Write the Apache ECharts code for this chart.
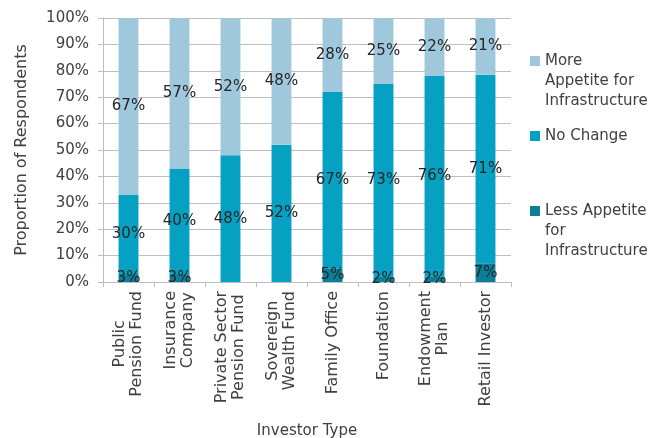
<!DOCTYPE html>
<html>
<head>
<meta charset="utf-8">
<script src="https://cdn.jsdelivr.net/npm/echarts@6/dist/echarts.min.js"></script>
<style>
  html, body { margin: 0; padding: 0; background: #ffffff; }
  #chart { width: 664px; height: 438px; }
</style>
</head>
<body>
<div id="chart"></div>
<script>
// Investor types (line breaks as shown under the axis)
const categories = [
  'Public\nPension Fund',
  'Insurance\nCompany',
  'Private Sector\nPension Fund',
  'Sovereign\nWealth Fund',
  'Family Office',
  'Foundation',
  'Endowment\nPlan',
  'Retail Investor'
];

// Share of respondents (%) per investor type
const lessAppetite = [3, 3, 0, 0, 5, 2, 2, 7.1];
const noChange     = [30, 40, 48, 52, 67, 73, 76, 71.4];
const moreAppetite = [67, 57, 52, 48, 28, 25, 22, 21.4];

const seriesNames = [
  'Less Appetite for Infrastructure',
  'No Change',
  'More Appetite for Infrastructure'
];
const legendLabels = {
  'More Appetite for Infrastructure': 'More\nAppetite for\nInfrastructure',
  'No Change': 'No Change',
  'Less Appetite for Infrastructure': 'Less Appetite\nfor\nInfrastructure'
};

const FONT = 'DejaVu Sans';
const TEXT = '#404040';
const LEGEND_LINE = 20;

const labelCfg = {
  show: true,
  position: 'inside',
  color: '#262626',
  fontFamily: FONT,
  fontSize: 15,
  formatter: p => (p.value ? Math.round(p.value) + '%' : '')
};

// One legend block per series; the first text line sits beside the swatch,
// so blank lines are prepended to keep the block's middle on that line.
function legendFor(name, swatchCenterY) {
  const lines = legendLabels[name].split('\n');
  const pad = lines.length - 1;
  const text = '\n'.repeat(pad) + lines.join('\n');
  const total = lines.length + pad;
  return {
    data: [name],
    orient: 'vertical',
    left: 530,
    top: swatchCenterY - total * LEGEND_LINE / 2,
    padding: 0,
    icon: 'rect',
    itemWidth: 10,
    itemHeight: 10,
    selectedMode: false,
    formatter: () => text,
    textStyle: {
      fontFamily: FONT,
      fontSize: 15,
      color: TEXT,
      lineHeight: LEGEND_LINE
    }
  };
}

const chart = echarts.init(document.getElementById('chart'), null, { renderer: 'canvas' });
chart.setOption({
  animation: false,
  textStyle: { fontFamily: FONT },
  grid: {
    left: 103, right: 153, top: 18, bottom: 156,
    containLabel: false,
    outerBoundsMode: 'none'
  },
  legend: [
    legendFor('More Appetite for Infrastructure', 61),
    legendFor('No Change', 136),
    legendFor('Less Appetite for Infrastructure', 211)
  ],
  xAxis: {
    type: 'category',
    data: categories,
    name: 'Investor Type',
    nameLocation: 'middle',
    nameGap: 142,
    nameTextStyle: { fontFamily: FONT, fontSize: 15, color: TEXT },
    axisLine: { show: true, lineStyle: { color: '#bfbfbf', width: 1 } },
    axisTick: { show: true, length: 5, lineStyle: { color: '#bfbfbf' } },
    axisLabel: {
      interval: 0,
      rotate: 90,
      margin: 9,
      color: TEXT,
      fontFamily: FONT,
      fontSize: 16,
      formatter: v => v.split('\n').map(s => '{c|' + s + '}').join('\n'),
      rich: {
        c: { align: 'center', fontFamily: FONT, fontSize: 16, color: TEXT, lineHeight: 17 }
      }
    }
  },
  yAxis: {
    type: 'value',
    min: 0,
    max: 100,
    interval: 10,
    name: 'Proportion of Respondents',
    nameLocation: 'middle',
    nameGap: 73,
    nameTextStyle: { fontFamily: FONT, fontSize: 16, color: TEXT },
    axisLine: { show: true, lineStyle: { color: '#bfbfbf', width: 1 } },
    axisTick: { show: true, length: 5, lineStyle: { color: '#bfbfbf' } },
    axisLabel: {
      margin: 14,
      color: TEXT,
      fontFamily: FONT,
      fontSize: 15,
      formatter: '{value}%'
    },
    splitLine: { show: true, lineStyle: { color: '#bfbfbf', width: 1 } }
  },
  series: [
    {
      name: seriesNames[0], type: 'bar', stack: 'total', barWidth: '39%',
      itemStyle: { color: '#0a7f98' }, label: labelCfg, data: lessAppetite
    },
    {
      name: seriesNames[1], type: 'bar', stack: 'total', barWidth: '39%',
      itemStyle: { color: '#06a0c3' }, label: labelCfg, data: noChange
    },
    {
      name: seriesNames[2], type: 'bar', stack: 'total', barWidth: '39%',
      itemStyle: { color: '#a0c8dc' }, label: labelCfg, data: moreAppetite
    }
  ]
});
</script>
</body>
</html>
